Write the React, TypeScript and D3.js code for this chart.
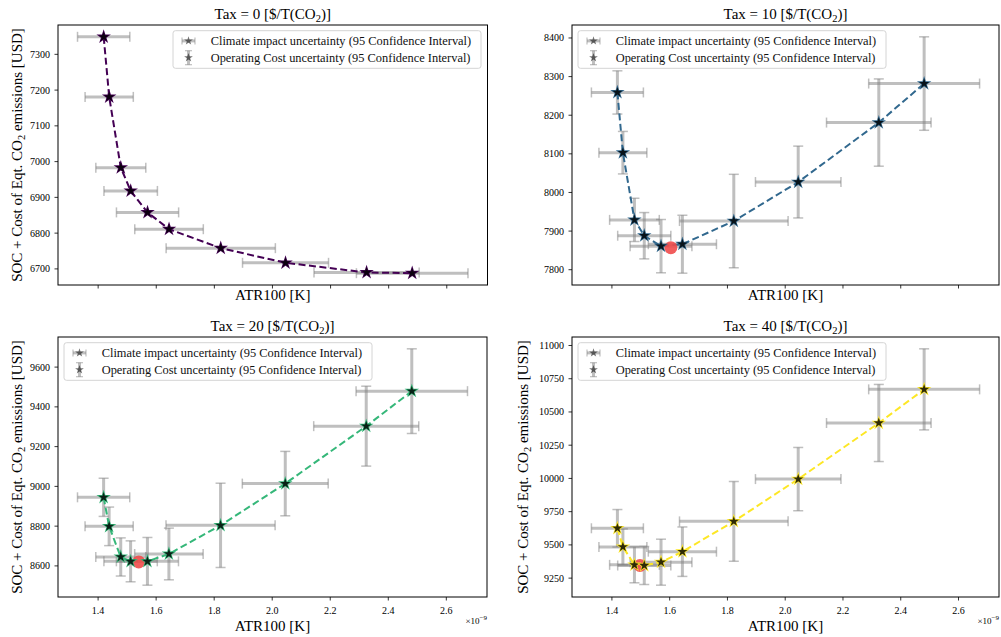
import React from 'react';
import * as d3 from 'd3';

const W = 1001;
const H = 637;
const FONT = '"Liberation Serif", "Times New Roman", serif';

// ATR100 of each design point (units of 1e-9 K) and its 95% CI half width
const atr = [1.419, 1.438, 1.478, 1.512, 1.570, 1.644, 1.822, 2.045, 2.324, 2.481];
const atrErr = [0.09, 0.083, 0.086, 0.092, 0.107, 0.118, 0.188, 0.148, 0.181, 0.192];

const taxes = [0, 10, 20, 40];

// SOC + cost of CO2 [USD] per tax level, with 95% CI half width
const cost0 = [7349, 7181, 6983, 6918, 6858, 6811, 6758, 6717, 6690, 6688];
const costErr0 = [0, 0, 0, 0, 0, 0, 0, 0, 0, 0];
const cost10 = [8259, 8103, 7929, 7888, 7861, 7866, 7926, 8027, 8181, 8282];
const costErr10 = [56, 55, 56, 60, 69, 75, 121, 93, 113, 121];
const cost20 = [8945, 8799, 8645, 8623, 8623, 8660, 8804, 9014, 9303, 9479];
const costErr20 = [96, 97, 96, 103, 120, 130, 212, 162, 201, 213];
const cost40 = [9625, 9485, 9350, 9345, 9370, 9449, 9677, 9995, 10417, 10670];
const costErr40 = [141, 135, 135, 143, 173, 186, 300, 238, 290, 305];

// optimum (red dot) per tax level
const optAtr = [null, 1.604, 1.54, 1.497];
const optCost = [null, 7857, 8620, 9345];

const xTicks = [1.4, 1.6, 1.8, 2.0, 2.2, 2.4, 2.6];
const yTicks0 = [6700, 6800, 6900, 7000, 7100, 7200, 7300];
const yTicks10 = [7800, 7900, 8000, 8100, 8200, 8300, 8400];
const yTicks20 = [8600, 8800, 9000, 9200, 9400, 9600];
const yTicks40 = [9250, 9500, 9750, 10000, 10250, 10500, 10750, 11000];

const legendLabels = [
  'Climate impact uncertainty (95 Confidence Interval)',
  'Operating Cost uncertainty (95 Confidence Interval)',
];

const costs = [cost0, cost10, cost20, cost40];
const costErrs = [costErr0, costErr10, costErr20, costErr40];
const yTicksAll = [yTicks0, yTicks10, yTicks20, yTicks40];

const frames = [
  { left: 58, top: 25, right: 487.5, bottom: 285 },
  { left: 572, top: 25, right: 999, bottom: 285 },
  { left: 58, top: 337, right: 487, bottom: 597 },
  { left: 572, top: 337, right: 999, bottom: 597 },
];
const ylabelOffset = [41.5, 0, 41.5, 49.5];

const ERR = 'rgba(128,128,128,0.5)';

function starPath(r: number) {
  // d3 symbolStar outer radius = sqrt(size * 0.8908...)
  return d3.symbol(d3.symbolStar, (r * r) / 0.8908130915292852)() as string;
}

function Panel({ k }: { k: number }) {
  const f = frames[k];
  const cost = costs[k];
  const err = costErrs[k];
  const color = d3.interpolateViridis(k / 3);
  const bottomRow = k >= 2;

  const xLo = d3.min(atr, (v, i) => v - atrErr[i]) as number;
  const xHi = d3.max(atr, (v, i) => v + atrErr[i]) as number;
  const yLo = d3.min(cost, (v, i) => v - err[i]) as number;
  const yHi = d3.max(cost, (v, i) => v + err[i]) as number;
  const px = (xHi - xLo) * 0.05;
  const py = (yHi - yLo) * 0.05;

  const x = d3.scaleLinear().domain([xLo - px, xHi + px]).range([f.left, f.right]);
  const y = d3.scaleLinear().domain([yLo - py, yHi + py]).range([f.bottom, f.top]);

  const line = d3.line<number>().x((_, i) => x(atr[i])).y((d) => y(d));
  const bigStar = starPath(7.6);
  const smallStar = starPath(5.4);
  const legStar = starPath(4.6);
  const cap = 5;

  const cx = (f.left + f.right) / 2;
  const cy = (f.top + f.bottom) / 2;

  const legW = 308;
  const legH = 37.6;
  const legX = k === 0 ? f.right - 6.5 - legW : f.left + 6;
  const legY = f.top + 5.7;
  const hx = legX + 15.5;
  const r1 = legY + 10.2;
  const r2 = legY + 27;

  return (
    <g>
      {/* title */}
      <text x={cx} y={f.top - 6} textAnchor="middle" fontSize={15} fontFamily={FONT}>
        Tax = {taxes[k]} [$/T(CO<tspan dy={3} fontSize={10.5}>2</tspan>
        <tspan dy={-3}>)]</tspan>
      </text>

      {/* x error bars */}
      {atr.map((v, i) => (
        <g key={'xe' + i} stroke={ERR}>
          <line x1={x(v - atrErr[i])} x2={x(v + atrErr[i])} y1={y(cost[i])} y2={y(cost[i])} strokeWidth={3} />
          <line x1={x(v - atrErr[i])} x2={x(v - atrErr[i])} y1={y(cost[i]) - cap} y2={y(cost[i]) + cap} strokeWidth={1.5} />
          <line x1={x(v + atrErr[i])} x2={x(v + atrErr[i])} y1={y(cost[i]) - cap} y2={y(cost[i]) + cap} strokeWidth={1.5} />
        </g>
      ))}
      {/* y error bars */}
      {atr.map((v, i) =>
        err[i] > 0 ? (
          <g key={'ye' + i} stroke={ERR}>
            <line x1={x(v)} x2={x(v)} y1={y(cost[i] - err[i])} y2={y(cost[i] + err[i])} strokeWidth={3} />
            <line x1={x(v) - cap} x2={x(v) + cap} y1={y(cost[i] - err[i])} y2={y(cost[i] - err[i])} strokeWidth={1.5} />
            <line x1={x(v) - cap} x2={x(v) + cap} y1={y(cost[i] + err[i])} y2={y(cost[i] + err[i])} strokeWidth={1.5} />
          </g>
        ) : null
      )}

      <path d={line(cost) as string} fill="none" stroke={color} strokeWidth={2} strokeDasharray="7 3.5" />

      {optAtr[k] != null && (
        <circle cx={x(optAtr[k] as number)} cy={y(optCost[k] as number)} r={6.5} fill="#ef4b4b" fillOpacity={0.9} />
      )}

      {atr.map((v, i) => (
        <g key={'s' + i} transform={`translate(${x(v)},${y(cost[i])})`}>
          <path d={bigStar} fill={color} />
          <path d={smallStar} fill="#000" fillOpacity={0.82} />
        </g>
      ))}

      {/* frame */}
      <rect x={f.left} y={f.top} width={f.right - f.left} height={f.bottom - f.top} fill="none" stroke="#000" strokeWidth={1} />

      {/* x ticks */}
      {xTicks.map((t) => (
        <g key={'xt' + t}>
          <line x1={x(t)} x2={x(t)} y1={f.bottom} y2={f.bottom + 3.5} stroke="#000" strokeWidth={0.8} />
          {bottomRow && (
            <text x={x(t)} y={f.bottom + 17} textAnchor="middle" fontSize={10} fontFamily={FONT}>
              {t.toFixed(1)}
            </text>
          )}
        </g>
      ))}
      {/* y ticks */}
      {yTicksAll[k].map((t) => (
        <g key={'yt' + t}>
          <line x1={f.left - 3.5} x2={f.left} y1={y(t)} y2={y(t)} stroke="#000" strokeWidth={0.8} />
          <text x={f.left - 8} y={y(t)} dy="0.35em" textAnchor="end" fontSize={10} fontFamily={FONT}>
            {t}
          </text>
        </g>
      ))}

      {/* axis labels */}
      <text x={cx} y={bottomRow ? f.bottom + 34 : f.bottom + 15} textAnchor="middle" fontSize={15} fontFamily={FONT}>
        ATR100 [K]
      </text>
      {bottomRow && (
        <text x={f.right} y={f.bottom + 27} textAnchor="end" fontSize={9} fontFamily={FONT}>
          ×10<tspan dy={-4} fontSize={7}>−9</tspan>
        </text>
      )}
      {k !== 1 && (
        <text
          transform={`translate(${f.left - ylabelOffset[k]},${cy}) rotate(-90)`}
          textAnchor="middle"
          dy="0.35em"
          fontSize={15}
          fontFamily={FONT}
        >
          SOC + Cost of Eqt. CO<tspan dy={3} fontSize={10.5}>2</tspan>
          <tspan dy={-3}> emissions [USD]</tspan>
        </text>
      )}

      {/* legend */}
      <rect x={legX} y={legY} width={legW} height={legH} rx={2.5} fill="#fff" fillOpacity={0.8} stroke="#d4d4d4" strokeWidth={1} />
      <g stroke={ERR}>
        <line x1={hx - 6.5} x2={hx + 6.5} y1={r1} y2={r1} strokeWidth={3} />
        <line x1={hx - 6.5} x2={hx - 6.5} y1={r1 - 3.5} y2={r1 + 3.5} strokeWidth={1.2} />
        <line x1={hx + 6.5} x2={hx + 6.5} y1={r1 - 3.5} y2={r1 + 3.5} strokeWidth={1.2} />
        <line x1={hx} x2={hx} y1={r2 - 7} y2={r2 + 7} strokeWidth={3} />
        <line x1={hx - 3.5} x2={hx + 3.5} y1={r2 - 7} y2={r2 - 7} strokeWidth={1.2} />
        <line x1={hx - 3.5} x2={hx + 3.5} y1={r2 + 7} y2={r2 + 7} strokeWidth={1.2} />
      </g>
      <path d={legStar} transform={`translate(${hx},${r1})`} fill="#000" fillOpacity={0.55} />
      <path d={legStar} transform={`translate(${hx},${r2})`} fill="#000" fillOpacity={0.55} />
      {legendLabels.map((s, i) => (
        <text key={s} x={legX + 37.7} y={i === 0 ? r1 : r2} dy="0.35em" fontSize={12.4} fontFamily={FONT} fill="#111">
          {s}
        </text>
      ))}
    </g>
  );
}

export default function App() {
  return (
    <svg
      width={W}
      height={H}
      viewBox={`0 0 ${W} ${H}`}
      style={{ position: 'absolute', left: 0, top: 0, background: '#fff' }}
    >
      <rect width={W} height={H} fill="#fff" />
      {taxes.map((_, k) => (
        <Panel key={k} k={k} />
      ))}
    </svg>
  );
}
